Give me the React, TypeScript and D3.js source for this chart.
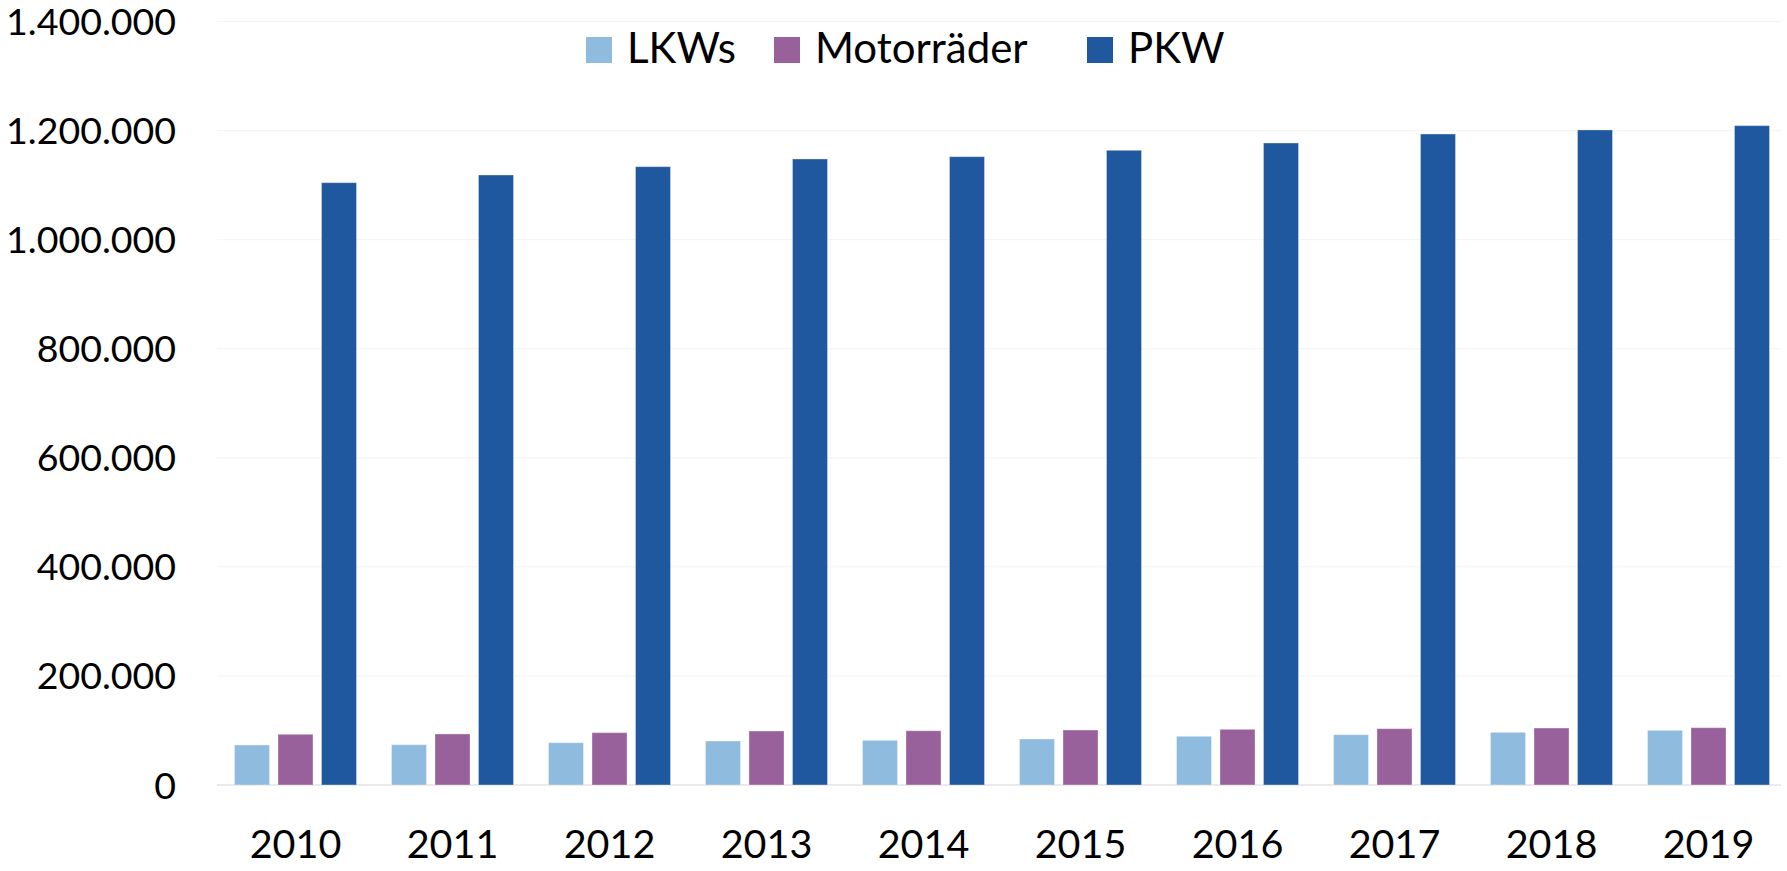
import * as d3 from "d3";
import { useEffect, useRef } from "react";

// categories + series
const years = ["2010", "2011", "2012", "2013", "2014", "2015", "2016", "2017", "2018", "2019"];
const seriesNames = ["LKWs", "Motorräder", "PKW"];
const lkw = [73400, 74000, 77600, 80700, 82000, 84400, 89300, 92300, 96600, 100300];
const motorraeder = [93000, 93600, 96000, 99000, 99500, 100900, 102100, 103300, 104500, 105100];
const pkw = [1104600, 1118700, 1134000, 1148100, 1152300, 1164000, 1177400, 1193900, 1201300, 1209200];
const yTicks = [0, 200000, 400000, 600000, 800000, 1000000, 1200000, 1400000];
const colors = ["#8FBCDE", "#99619B", "#1F589E"];
const legendX = [586, 774, 1087];

const W = 1787, H = 871;

const App = () => {
    const ref = useRef<SVGSVGElement | null>(null);

    useEffect(() => {
        if (!ref.current) return;
        const svg = d3.select(ref.current);
        svg.selectAll("*").remove();

        const font = "Lato, 'Open Sans', sans-serif";
        const de = d3.formatLocale({ decimal: ",", thousands: ".", grouping: [3], currency: ["", " €"] });
        const fmt = de.format(",");

        const values = [lkw, motorraeder, pkw];
        const rows = years.map((yr, i) => ({
            year: yr,
            bars: seriesNames.map((s, j) => ({ name: s, value: values[j][i], color: colors[j] })),
        }));

        const x0 = d3.scaleBand().domain(years).range([217, 1787]).padding(0);
        const x1 = d3.scaleBand().domain(seriesNames).range([17.5, 139.5]).paddingInner(0.195);
        const y = d3.scaleLinear().domain([0, 1400000]).range([785, 21.6]);

        // gridlines
        svg.append("g")
            .selectAll("line")
            .data(yTicks)
            .join("line")
            .attr("x1", 217)
            .attr("x2", 1781)
            .attr("y1", d => y(d))
            .attr("y2", d => y(d))
            .attr("stroke", d => (d === 0 ? "#EAEAEA" : "#F3F3F3"))
            .attr("stroke-width", d => (d === 0 ? 2 : 1));

        // y labels
        svg.append("g")
            .selectAll("text")
            .data(yTicks)
            .join("text")
            .attr("x", 176)
            .attr("y", d => y(d))
            .attr("dy", "0.36em")
            .attr("text-anchor", "end")
            .style("font-family", font)
            .style("font-size", "37.5px")
            .style("fill", "#000")
            .text(d => fmt(d));

        // bars
        const groups = svg.append("g")
            .selectAll("g")
            .data(rows)
            .join("g")
            .attr("transform", d => `translate(${x0(d.year)},0)`);

        groups.selectAll("rect")
            .data(d => d.bars)
            .join("rect")
            .attr("x", d => x1(d.name)!)
            .attr("y", d => y(d.value))
            .attr("width", x1.bandwidth())
            .attr("height", d => y(0) - y(d.value))
            .attr("fill", d => d.color)
            .attr("stroke", "#ffffff")
            .attr("stroke-opacity", 0.35)
            .attr("stroke-width", 1);

        // x labels
        svg.append("g")
            .selectAll("text")
            .data(years)
            .join("text")
            .attr("x", d => x0(d)! + x0.bandwidth() / 2)
            .attr("y", 858)
            .attr("text-anchor", "middle")
            .style("font-family", font)
            .style("font-size", "39.5px")
            .style("fill", "#000")
            .text(d => d);

        // legend
        const legend = svg.append("g")
            .selectAll("g")
            .data(seriesNames)
            .join("g")
            .attr("transform", (d, i) => `translate(${legendX[i]},0)`);

        legend.append("rect")
            .attr("x", 0)
            .attr("y", 37)
            .attr("width", 26)
            .attr("height", 26)
            .attr("fill", (d, i) => colors[i]);

        legend.append("text")
            .attr("x", 41)
            .attr("y", 63)
            .style("font-family", font)
            .style("font-size", "42px")
            .style("fill", "#000")
            .text(d => d);
    }, []);

    return (
        <svg
            ref={ref}
            width={W}
            height={H}
            style={{ position: "absolute", left: 0, top: 0, background: "#fff" }}
        />
    );
};

export default App;
